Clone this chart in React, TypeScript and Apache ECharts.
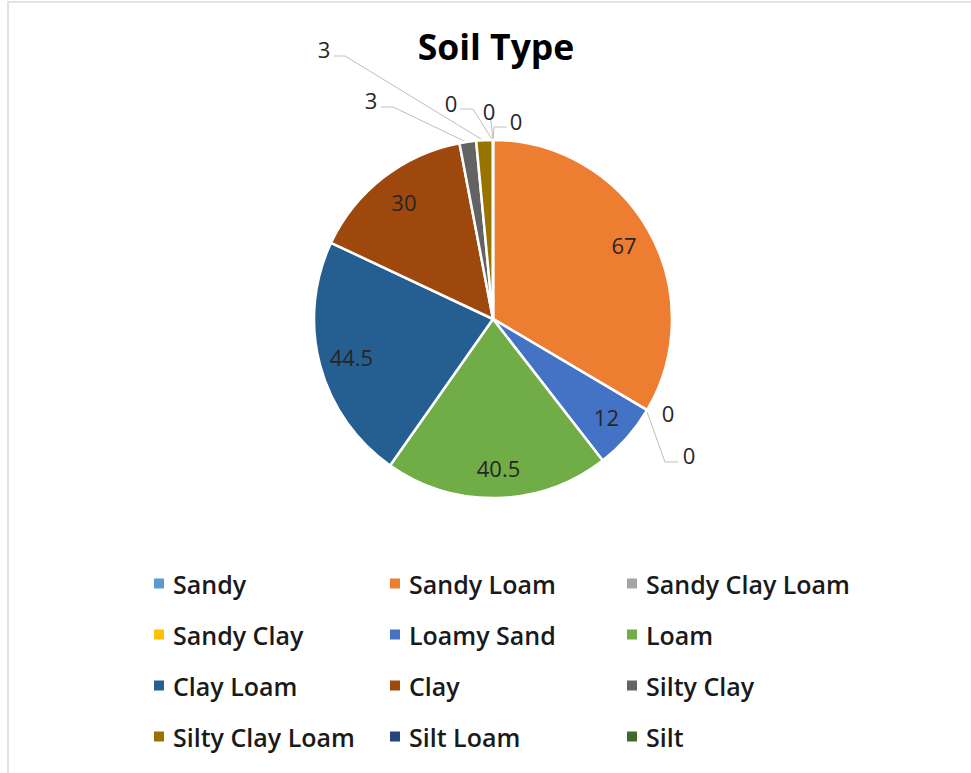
import React, { useEffect, useRef } from "react";
import * as echarts from "echarts";

const TITLE = "Soil Type";
const CATEGORIES = [
  "Sandy",
  "Sandy Loam",
  "Sandy Clay Loam",
  "Sandy Clay",
  "Loamy Sand",
  "Loam",
  "Clay Loam",
  "Clay",
  "Silty Clay",
  "Silty Clay Loam",
  "Silt Loam",
  "Silt",
];
const VALUES = [0, 67, 0, 0, 12, 40.5, 44.5, 30, 3, 3, 0, 0];
const COLORS = [
  "#5B9BD5",
  "#ED7D31",
  "#A5A5A5",
  "#FFC000",
  "#4472C4",
  "#70AD47",
  "#255E91",
  "#9E480E",
  "#636363",
  "#997300",
  "#264478",
  "#43682B",
];

// layout (pixels)
const CX = 493;
const CY = 319;
const R = 179;
const INNER_FACTOR = 0.83;
const LEGEND_X = [152, 388, 625];

// outside labels: label centre, elbow, end of leader line
const OUTER: Record<string, { label: number[]; elbow?: number[]; end?: number[] }> = {
  Sandy: { label: [516, 121], elbow: [494, 127], end: [507, 127] },
  "Sandy Clay Loam": { label: [668, 413] },
  "Sandy Clay": { label: [689, 455], elbow: [665, 462], end: [678, 462] },
  "Silty Clay": { label: [371, 100], elbow: [393, 107], end: [381, 107] },
  "Silty Clay Loam": { label: [324, 49], elbow: [345, 56], end: [334, 56] },
  "Silt Loam": { label: [451, 103], elbow: [473, 109], end: [460, 109] },
  Silt: { label: [489, 111], elbow: [491, 121], end: [490, 120] },
};

export default function App() {
  const ref = useRef<HTMLDivElement>(null);
  useEffect(() => {
    if (!ref.current) return;
    const chart = echarts.init(ref.current, undefined, { renderer: "svg" });
    const total = VALUES.reduce((a, b) => a + b, 0);
    const mids: number[] = [];
    let acc = 0;
    VALUES.forEach((v) => {
      const a0 = (acc / total) * 360;
      acc += v;
      const a1 = (acc / total) * 360;
      mids.push((a0 + a1) / 2);
    });
    const pt = (deg: number, r: number) => {
      const t = (deg * Math.PI) / 180;
      return [CX + r * Math.sin(t), CY - r * Math.cos(t)];
    };
    const data = CATEGORIES.map((name, i) => {
      const o = OUTER[name];
      return {
        name,
        value: VALUES[i],
        itemStyle: { color: COLORS[i] },
        label: { position: o ? "outside" : "inside" },
        labelLine: { show: !!(o && o.elbow) },
      };
    });
    const option: any = {
      animation: false,
      backgroundColor: "#ffffff",
      title: {
        text: TITLE,
        left: 491,
        top: 23,
        textAlign: "center",
        textStyle: {
          fontFamily: "Open Sans",
          fontWeight: "bold",
          fontSize: 35.5,
          color: "#000000",
        },
      },
      graphic: [
        {
          type: "rect",
          shape: { x: 8, y: 2, width: 1000, height: 1000 },
          style: { fill: "none", stroke: "#e3e3e3", lineWidth: 2 },
          z: -10,
          silent: true,
        },
      ],
      legend: [0, 1, 2].map((col) => ({
        orient: "vertical",
        left: LEGEND_X[col],
        top: 571,
        padding: 0,
        itemGap: 26,
        itemWidth: 12,
        itemHeight: 12,
        icon: "rect",
        selectedMode: false,
        data: CATEGORIES.filter((_, i) => i % 3 === col),
        textStyle: {
          fontFamily: "Open Sans",
          fontWeight: 600,
          fontSize: 25,
          color: "#1a1a1a",
          padding: [0, 0, 0, 3],
        },
      })),
      series: [
        {
          type: "pie",
          center: [CX, CY],
          radius: [0, R],
          startAngle: 90,
          clockwise: true,
          avoidLabelOverlap: false,
          itemStyle: { borderColor: "#ffffff", borderWidth: 2.5 },
          label: {
            show: true,
            formatter: "{c}",
            fontFamily: "Open Sans",
            fontSize: 22,
            color: "#262626",
          },
          labelLine: {
            show: true,
            lineStyle: { color: "#bfbfbf", width: 1 },
          },
          emphasis: { disabled: true },
          labelLayout: (params: any) => {
            const i = params.dataIndex;
            const o = OUTER[CATEGORIES[i]];
            if (o) {
              const a = pt(mids[i], R - 1);
              const res: any = {
                x: o.label[0],
                y: o.label[1],
                align: "center",
                verticalAlign: "middle",
              };
              if (o.elbow && o.end) res.labelLinePoints = [a, o.elbow, o.end];
              return res;
            }
            const p = pt(mids[i], R * INNER_FACTOR);
            return { x: p[0] + 2, y: p[1], align: "center", verticalAlign: "middle" };
          },
          data,
        },
      ],
    };
    chart.setOption(option);
    return () => chart.dispose();
  }, []);
  return (
    <div
      ref={ref}
      style={{ position: "absolute", left: 0, top: 0, width: 971, height: 773 }}
    />
  );
}
